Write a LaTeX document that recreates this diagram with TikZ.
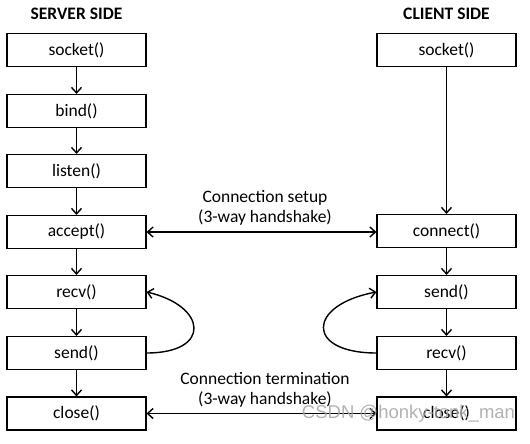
\documentclass[tikz,border=0pt]{standalone}
\usepackage{fontspec}
\setmainfont{Carlito}
\newfontfamily\wmfont{Liberation Sans}
\usetikzlibrary{arrows.meta}
\tikzset{
  fnbox/.style={draw=black, line width=1.1pt, minimum width=139pt, minimum height=33pt, inner sep=0pt, font=\fontsize{17.5}{20}\selectfont},
  title/.style={font=\fontsize{17.5}{20}\selectfont\bfseries},
  tip/.style={},
  flow/.style={line width=1.4pt, -{Straight Barb[length=5.5pt,width=10pt,line width=1.4pt]}},
  both/.style={line width=1.4pt, {Straight Barb[length=5.5pt,width=10pt,line width=1.4pt]}-{Straight Barb[length=5.5pt,width=10pt,line width=1.4pt]}},
  lbl/.style={align=center, font=\fontsize{17.5}{20}\selectfont, inner sep=0pt},
}
\begin{document}
\begin{tikzpicture}[x=1pt,y=-1pt]
\useasboundingbox (0,0) rectangle (530,444);
\fill[white] (0,0) rectangle (530,444);
\node[title] (st) at (76.5,14) {SERVER SIDE};
\node[title] (ct) at (446.5,14) {CLIENT SIDE};
% server
\node[fnbox] (ssock) at (76.5,50) {socket()};
\node[fnbox] (sbind) at (76.5,111) {bind()};
\node[fnbox] (slist) at (76.5,171) {listen()};
\node[fnbox] (sacc)  at (76.5,232) {accept()};
\node[fnbox] (srecv) at (76.5,292) {recv()};
\node[fnbox] (ssend) at (76.5,353) {send()};
\node[fnbox] (sclose) at (76.5,413.5) {close()};
% client
\node[fnbox] (csock) at (446.5,50) {socket()};
\node[fnbox] (cconn) at (446.5,231) {connect()};
\node[fnbox] (csend) at (446.5,292) {send()};
\node[fnbox] (crecv) at (446.5,353) {recv()};
\node[fnbox] (cclose) at (446.5,413.5) {close()};
% vertical flows
\draw[flow] (ssock) -- (sbind);
\draw[flow] (sbind) -- (slist);
\draw[flow] (slist) -- (sacc);
\draw[flow] (sacc) -- (srecv);
\draw[flow] (srecv) -- (ssend);
\draw[flow] (ssend) -- (sclose);
\draw[flow] (csock) -- (cconn);
\draw[flow] (cconn) -- (csend);
\draw[flow] (csend) -- (crecv);
\draw[flow] (crecv) -- (cclose);
% handshakes
\draw[both] (sacc.east) -- (sacc.east -| cconn.west);
\node[lbl] (setup) at (265,208) {Connection setup\\(3-way handshake)};
\draw[both] (sclose.east) -- (cclose.west);
\node[lbl] (term) at (265,390) {Connection termination\\(3-way handshake)};
% loops
\draw[flow] (ssend.east) .. controls (212,353) and (207,306) .. (srecv.east);
\draw[flow] (crecv.west) .. controls (305,353) and (307,305) .. (csend.west);
% watermark
\node[font=\wmfont\fontsize{18.5}{20}\selectfont, text={rgb,255:red,165;green,165;blue,165}, opacity=0.85, inner sep=0pt] (wm) at (408.5,414) {CSDN @honky-tonk\_man};
\end{tikzpicture}
\end{document}
